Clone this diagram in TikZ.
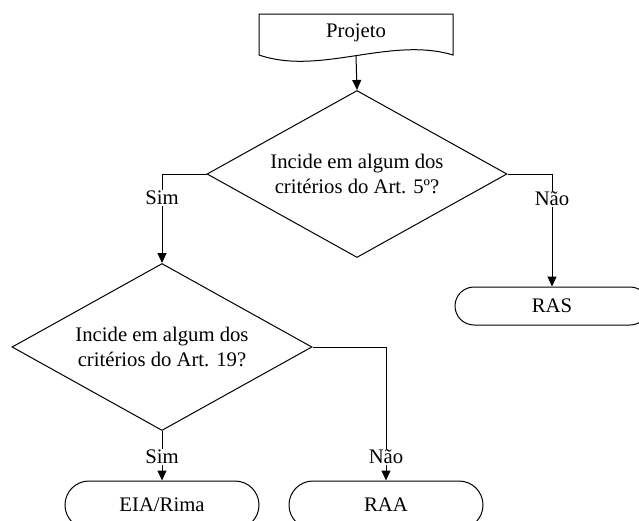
\documentclass[tikz,border=0pt]{standalone}
\usepackage{fontspec}
\setmainfont{Liberation Serif}
\usetikzlibrary{shapes.geometric,arrows.meta}
\begin{document}
\begin{tikzpicture}[x=1pt,y=-1pt,line width=1pt,
  every node/.style={font=\fontsize{20.7}{25}\selectfont},
  decision/.style={draw,shape=diamond,aspect=1.8,inner sep=0pt,minimum width=300pt,minimum height=167pt,align=center},
  term/.style={draw,rounded corners=19pt,minimum width=194pt,minimum height=38pt,inner sep=0pt},
  lbl/.style={fill=white,inner sep=1pt},
  arr/.style={-{Triangle[length=10pt,width=9pt]}}]
\useasboundingbox (0,0) rectangle (639,520);
% document shape
\draw (259,55) -- (259,14) -- (453,14) -- (453,55) .. controls (390,36) and (320,76) .. (259,55);
\node (proj) at (356,33) {Projeto};
\coordinate (projb) at (356,56);
\node[decision] (d1) at (357,174) {Incide em algum dos\\critérios do Art. 5º?};
\node[decision] (d2) at (162,347) {Incide em algum dos\\critérios do Art. 19?};
\node[term] (ras) at (552,306) {RAS};
\node[term,minimum height=48pt,rounded corners=24pt] (eia) at (162,505) {EIA/Rima};
\node[term,minimum height=48pt,rounded corners=24pt] (raa) at (386,505) {RAA};
\draw[arr] (projb) -- (d1.north);
\draw[arr] (d1.west) -| (d2.north);
\draw[arr] (d1.east) -| (ras.north);
\draw[arr] (d2.south) -- (eia.north);
\draw[arr] (d2.east) -| (raa.north);
\node[lbl] (s1) at (162,198) {Sim};
\node[lbl] (n1) at (552,199) {Não};
\node[lbl] (s2) at (162,457) {Sim};
\node[lbl] (n2) at (386,457) {Não};
\end{tikzpicture}
\end{document}
